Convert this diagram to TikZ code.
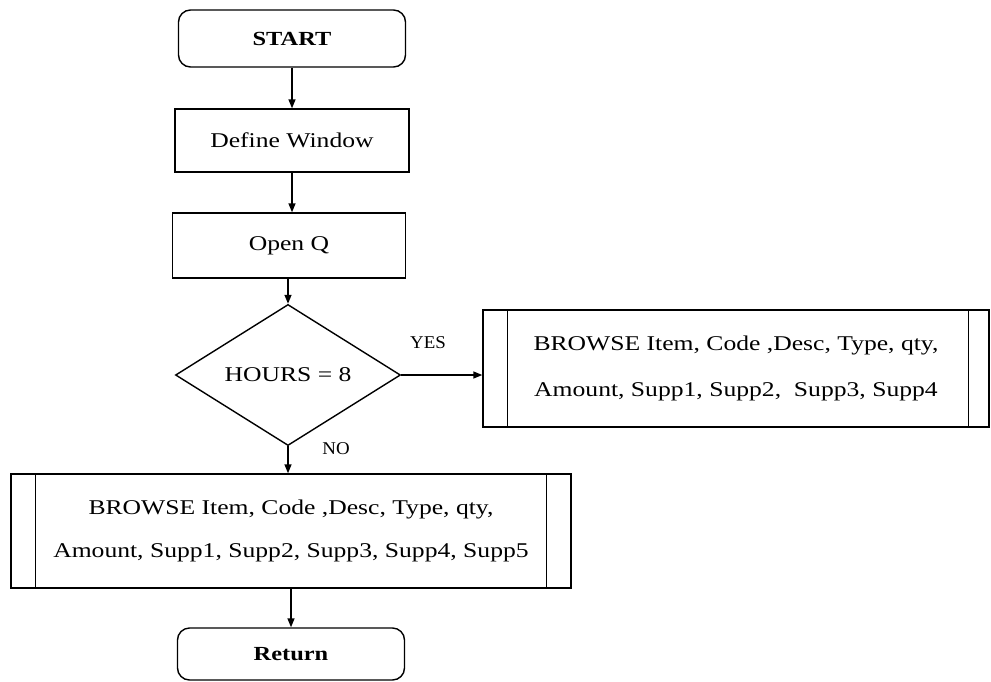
\documentclass[tikz,border=0pt]{standalone}
\usepackage{fontspec}
\newfontfamily\boxfont[FakeStretch=1.22]{Liberation Serif}
\newfontfamily\labfont[FakeStretch=1.05]{Liberation Serif}
\usetikzlibrary{shapes.geometric,arrows.meta}
\begin{document}
\begin{tikzpicture}[x=1pt,y=-1pt,line width=1.4pt,
  every node/.style={font={\boxfont\fontsize{21}{25}\selectfont}},
  term/.style={draw,rounded corners=12pt,minimum width=227pt,minimum height=57pt,inner sep=0pt,
    font={\boxfont\bfseries\fontsize{20}{24}\selectfont}},
  proc/.style={draw,minimum height=63pt,inner sep=0pt},
  pred/.style={draw,inner sep=0pt,align=center},
  dec/.style={draw,diamond,minimum width=225pt,minimum height=111pt,inner sep=0pt},
  lab/.style={font={\labfont\fontsize{18}{22}\selectfont},inner sep=0pt},
  arr/.style={-{Triangle[length=9pt,width=7pt]},line width=1.4pt}]
\useasboundingbox (0,0) rectangle (991,681);

\node[term] (start) at (292,38.5) {START};
\node[proc,minimum width=234pt] (def) at (292,140.5) {Define Window};
\node[proc,minimum width=233pt,minimum height=65pt] (open) at (289,245.5) {Open Q};
\node[dec] (hrs) at (288,375) {HOURS = 8};
\node[pred,minimum width=506pt,minimum height=117pt] (br1) at (736,368.5)
  {BROWSE Item, Code ,Desc, Type, qty,\\[21pt]Amount, Supp1, Supp2,\ \ Supp3, Supp4};
\draw ([xshift=25pt]br1.north west) -- ([xshift=25pt]br1.south west);
\draw ([xshift=-21pt]br1.north east) -- ([xshift=-21pt]br1.south east);
\node[pred,minimum width=560pt,minimum height=114pt] (br2) at (291,531)
  {BROWSE Item, Code ,Desc, Type, qty,\\[18pt]Amount, Supp1, Supp2, Supp3, Supp4, Supp5};
\draw ([xshift=25pt]br2.north west) -- ([xshift=25pt]br2.south west);
\draw ([xshift=-25pt]br2.north east) -- ([xshift=-25pt]br2.south east);
\node[term,minimum height=52pt] (ret) at (291,654) {Return};

\node[lab] (yes) at (428,343) {YES};
\node[lab] (no) at (336,449) {NO};

\draw[arr] (start.south) -- (start.south |- def.north);
\draw[arr] (def.south) -- (def.south |- open.north);
\draw[arr] (hrs.north |- open.south) -- (hrs.north);
\draw[arr] (hrs.east) -- (hrs.east -| br1.west);
\draw[arr] (hrs.south) -- (hrs.south |- br2.north);
\draw[arr] (ret.north |- br2.south) -- (ret.north);
\end{tikzpicture}
\end{document}
